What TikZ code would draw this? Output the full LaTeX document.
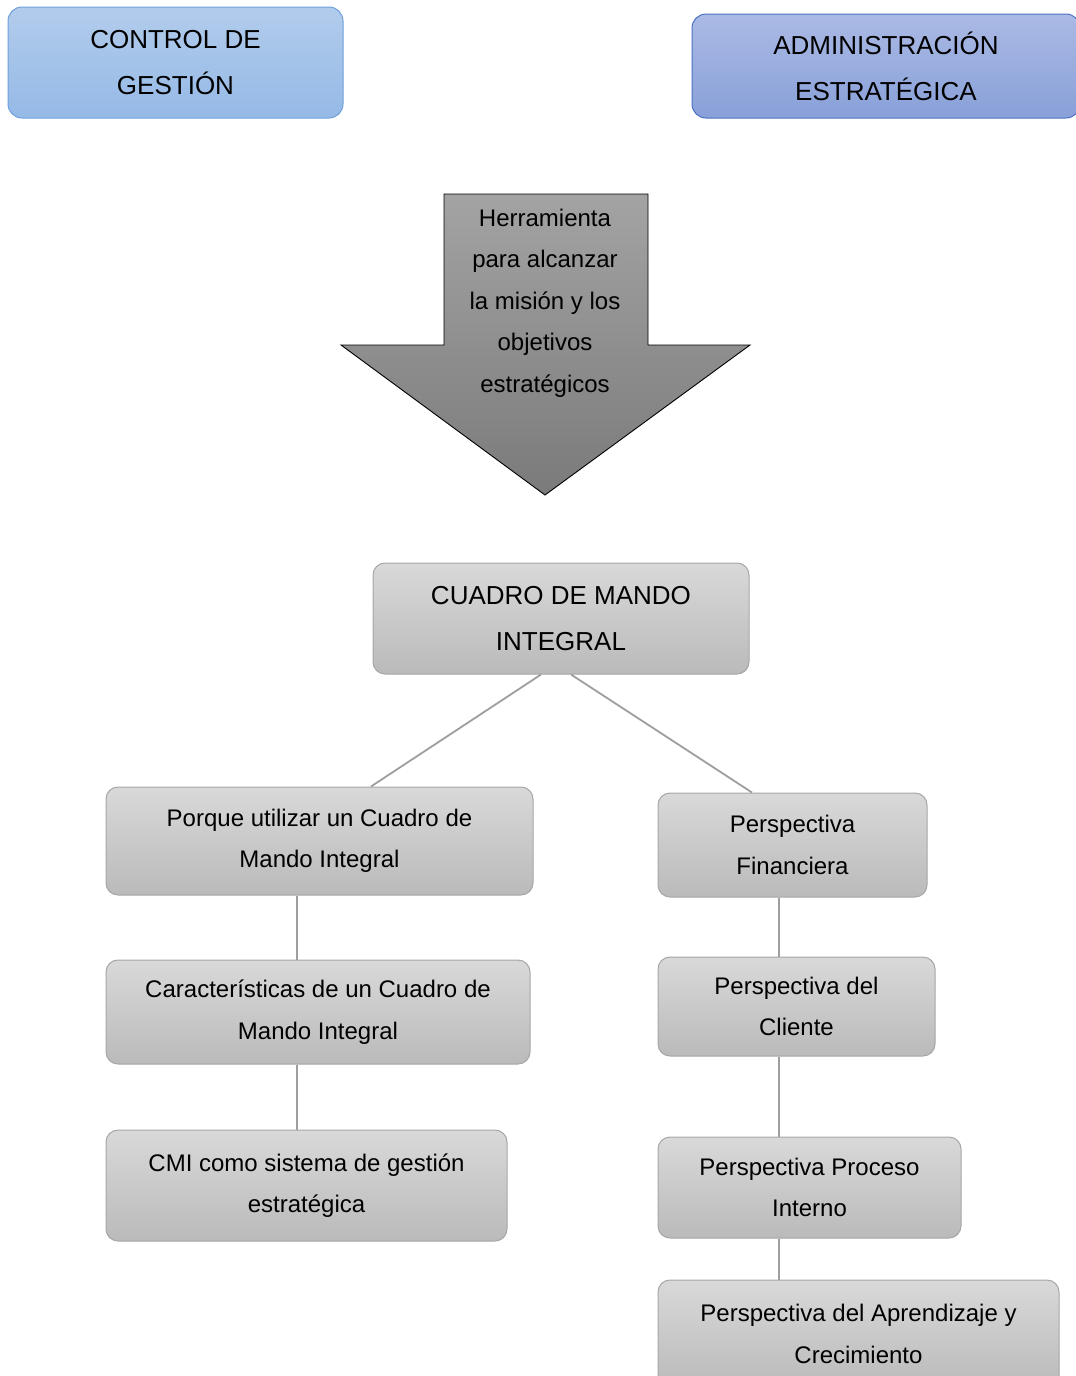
\documentclass[tikz,border=0pt]{standalone}
\usepackage{fontspec}
\setmainfont{Liberation Sans}
\definecolor{blueTop}{HTML}{B2CCEC}
\definecolor{blueBot}{HTML}{95B9E6}
\definecolor{blueEdge}{HTML}{6FA0DC}
\definecolor{violetTop}{HTML}{ABBAE5}
\definecolor{violetBot}{HTML}{88A0D8}
\definecolor{violetEdge}{HTML}{4C72C4}
\begin{document}
\begin{tikzpicture}[x=1pt,y=-1pt,
  bigfont/.style={font=\fontsize{26}{46}\selectfont},
  smallfont/.style={font=\fontsize{24}{41.5}\selectfont},
  bluebox/.style={draw=blueEdge, line width=1pt, rounded corners=14pt,
    top color=blueTop, bottom color=blueBot,
    align=center, inner sep=0pt, bigfont},
  violetbox/.style={draw=violetEdge, line width=1pt, rounded corners=14pt,
    top color=violetTop, bottom color=violetBot,
    align=center, inner sep=0pt, bigfont},
  graybox/.style={draw=black!35, line width=1pt, rounded corners=12pt,
    top color=black!15, bottom color=black!27,
    align=center, inner sep=0pt, smallfont},
  link/.style={draw=black!38, line width=1.8pt}]
\useasboundingbox (0,0) rectangle (1076,1376);

% top headings
\node[bluebox, minimum width=335, minimum height=111] (ctrl) at (175.5,62.5)
  {CONTROL DE\\GESTIÓN};
\node[violetbox, minimum width=388, minimum height=104] (adm) at (886,66)
  {ADMINISTRACIÓN\\ESTRATÉGICA};

% broad downward arrow
\coordinate (a1) at (444,194);
\coordinate (a2) at (648,194);
\coordinate (a3) at (648,345);
\coordinate (a4) at (750,345);
\coordinate (a5) at (545,495);
\coordinate (a6) at (341,345);
\coordinate (a7) at (444,345);
\path[draw=black, line width=0.9pt, top color=black!36, bottom color=black!52]
  (a1) -- (a2) -- (a3) -- (a4) -- (a5) -- (a6) -- (a7) -- cycle;
\node[smallfont, align=center] (tool) at (545,303)
  {Herramienta\\para alcanzar\\la misión y los\\objetivos\\estratégicos};

% central node
\node[graybox, bigfont, minimum width=376, minimum height=111] (cmi) at (561,618.5)
  {CUADRO DE MANDO\\INTEGRAL};

% left column
\node[graybox, minimum width=427, minimum height=108] (why) at (319.5,841)
  {Porque utilizar un Cuadro de\\Mando Integral};
\node[graybox, minimum width=424, minimum height=104] (feat) at (318,1012)
  {Características de un Cuadro de\\Mando Integral};
\node[graybox, minimum width=401, minimum height=111] (sys) at (306.5,1185.5)
  {CMI como sistema de gestión\\estratégica};

% right column
\node[graybox, minimum width=269, minimum height=104] (fin) at (792.5,845)
  {Perspectiva\\Financiera};
\node[graybox, minimum width=277, minimum height=99] (cli) at (796.5,1006.5)
  {Perspectiva del\\Cliente};
\node[graybox, minimum width=303, minimum height=101] (proc) at (809.5,1187.5)
  {Perspectiva Proceso\\Interno};
\node[graybox, minimum width=401, minimum height=108] (learn) at (858.5,1334)
  {Perspectiva del Aprendizaje y\\Crecimiento};

% connectors
\coordinate (lx) at (297,0);
\coordinate (rx) at (779,0);
\draw[link] ([xshift=-20pt]cmi.south) -- ([xshift=51.5pt]why.north);
\draw[link] ([xshift=10pt]cmi.south) -- ([xshift=-40.5pt]fin.north);
\draw[link] (why.south -| lx) -- (feat.north -| lx);
\draw[link] (feat.south -| lx) -- (sys.north -| lx);
\draw[link] (fin.south -| rx) -- (cli.north -| rx);
\draw[link] (cli.south -| rx) -- (proc.north -| rx);
\draw[link] (proc.south -| rx) -- (learn.north -| rx);
\end{tikzpicture}
\end{document}
